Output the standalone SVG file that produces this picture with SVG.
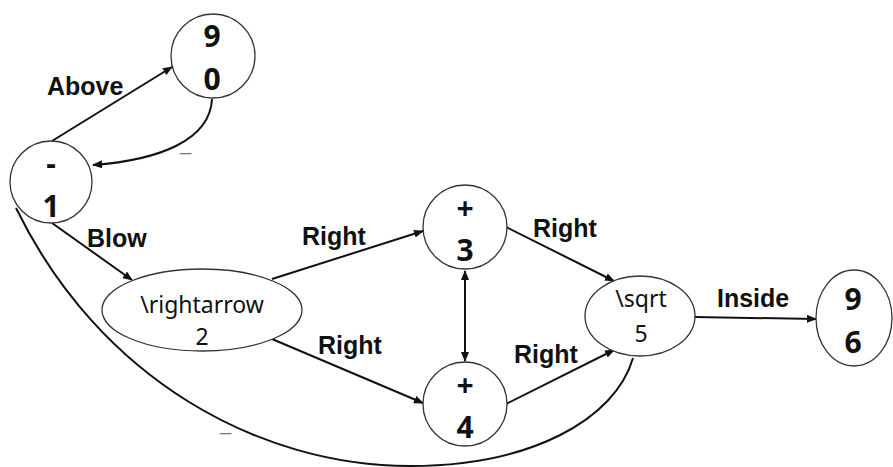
<svg xmlns="http://www.w3.org/2000/svg" width="893" height="467" viewBox="0 0 893 467">
<style>
.node{fill:#fff;stroke:#333;stroke-width:1.3}
.big{font-family:"Noto Sans","Liberation Sans",sans-serif;font-weight:bold;font-size:30px;fill:#111;text-anchor:middle}
.mid{font-family:"Noto Sans","Liberation Sans",sans-serif;font-size:23px;fill:#111;text-anchor:middle}
.lbl{font-family:"Liberation Sans",Arial,sans-serif;font-weight:bold;font-size:25px;fill:#111}
.us{font-family:"Liberation Sans",Arial,sans-serif;font-size:20px;fill:#777}
.edge{fill:none;stroke:#111;stroke-width:2}
</style>
<defs>
<marker id="ah" markerUnits="userSpaceOnUse" markerWidth="10" markerHeight="8" refX="9" refY="4" orient="auto-start-reverse">
<path d="M0,0 L10,4 L0,8 Z" fill="#111"/>
</marker>
</defs>
<g id="edges">
<path class="edge" d="M52,141 L172,67" marker-end="url(#ah)"/>
<path class="edge" d="M212,99 C210,140 160,160 93,165" marker-end="url(#ah)"/>
<path class="edge" d="M52,223 L132,280" marker-end="url(#ah)"/>
<path class="edge" d="M272,279 L423,231" marker-end="url(#ah)"/>
<path class="edge" d="M272,339 L423,403" marker-end="url(#ah)"/>
<path class="edge" d="M465,271 L465,361" marker-start="url(#ah)" marker-end="url(#ah)"/>
<path class="edge" d="M506,227 L614,281" marker-end="url(#ah)"/>
<path class="edge" d="M506,404 L614,350" marker-end="url(#ah)"/>
<path class="edge" d="M695,317 L816,319" marker-end="url(#ah)"/>
<path class="edge" d="M16,208 C100,380 260,466 410,466 C530,466 615,420 633,358"/>
<text class="lbl" x="47" y="95">Above</text>
<text class="us" x="180" y="150">_</text>
<text class="lbl" x="87" y="247">Blow</text>
<text class="lbl" x="302" y="245">Right</text>
<text class="lbl" x="318" y="354">Right</text>
<text class="lbl" x="533" y="237">Right</text>
<text class="lbl" x="514" y="363">Right</text>
<text class="lbl" x="717" y="307">Inside</text>
<text class="us" x="220" y="430">_</text>
</g>
<g id="n0"><circle class="node" cx="213" cy="56" r="42"/><text class="big" x="212" y="47">9</text><text class="big" x="212" y="90">0</text></g>
<g id="n1"><circle class="node" cx="51" cy="182" r="41"/><text class="big" x="51" y="174">-</text><text class="big" x="51" y="217">1</text></g>
<g id="n2"><ellipse class="node" cx="202" cy="310" rx="100" ry="41"/><text class="mid" x="202" y="313">\rightarrow</text><text class="mid" x="202" y="345">2</text></g>
<g id="n3"><circle class="node" cx="465" cy="227" r="42"/><text class="big" x="465" y="219">+</text><text class="big" x="465" y="261">3</text></g>
<g id="n4"><circle class="node" cx="465" cy="404" r="42"/><text class="big" x="465" y="396">+</text><text class="big" x="465" y="438">4</text></g>
<g id="n5"><ellipse class="node" cx="640" cy="316" rx="55" ry="40"/><text class="mid" x="641" y="307">\sqrt</text><text class="mid" x="641" y="342">5</text></g>
<g id="n6"><ellipse class="node" cx="854" cy="318" rx="38" ry="48"/><text class="big" x="853" y="310">9</text><text class="big" x="853" y="353">6</text></g>
</svg>
